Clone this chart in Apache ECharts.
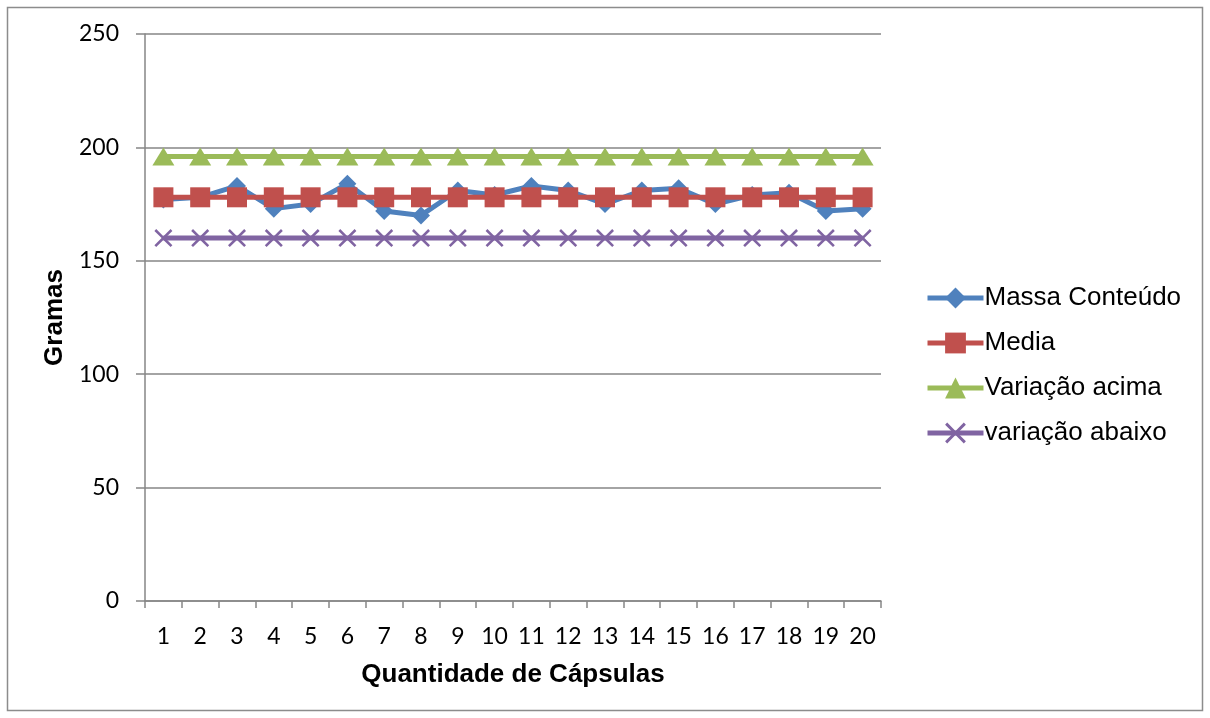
<!DOCTYPE html>
<html>
<head>
<meta charset="utf-8">
<script src="https://cdn.jsdelivr.net/npm/echarts@6/dist/echarts.min.js"></script>
<style>
  html, body { margin: 0; padding: 0; background: #fff; }
  #chart { width: 1210px; height: 718px; }
</style>
</head>
<body>
<div id="chart"></div>
<script>
// Capsule index (x axis categories)
const capsulas = ['1','2','3','4','5','6','7','8','9','10','11','12','13','14','15','16','17','18','19','20'];
// Measured content mass per capsule (g)
const massaConteudo = [177, 178, 183, 173, 175, 184, 172, 170, 181, 179, 183, 181, 175, 181, 182, 175, 179, 180, 172, 173];
// Mean and tolerance limits (g)
const media = [178, 178, 178, 178, 178, 178, 178, 178, 178, 178, 178, 178, 178, 178, 178, 178, 178, 178, 178, 178];
const variacaoAcima = [196, 196, 196, 196, 196, 196, 196, 196, 196, 196, 196, 196, 196, 196, 196, 196, 196, 196, 196, 196];
const variacaoAbaixo = [160, 160, 160, 160, 160, 160, 160, 160, 160, 160, 160, 160, 160, 160, 160, 160, 160, 160, 160, 160];
const yTicks = [0, 50, 100, 150, 200, 250];

const crossPath = 'path://M0,2L2,0L10,8L18,0L20,2L12,10L20,18L18,20L10,12L2,20L0,18L8,10Z';
const tickFont = 'Lato, "Open Sans", sans-serif';
const textFont = '"Liberation Sans", Arial, sans-serif';

const chart = echarts.init(document.getElementById('chart'), null, { renderer: 'canvas' });

function lineSeries(name, data, color, symbol, size) {
  return {
    name: name,
    type: 'line',
    data: data,
    symbol: symbol,
    symbolSize: size,
    showAllSymbol: true,
    lineStyle: { color: color, width: 5 },
    itemStyle: { color: color, borderWidth: 0 },
    emphasis: { disabled: true },
    animation: false
  };
}

chart.setOption({
  backgroundColor: '#fff',
  graphic: [{
    type: 'rect',
    shape: { x: 7.5, y: 7.5, width: 1195, height: 703 },
    style: { fill: 'none', stroke: '#8c8c8c', lineWidth: 1.5 },
    silent: true
  }],
  grid: { left: 145, right: 329, top: 34, bottom: 117 },
  legend: {
    orient: 'vertical',
    left: 920,
    top: 280,
    itemGap: 19,
    itemWidth: 56,
    itemHeight: 26,
    lineStyle: { width: 5 },
    textStyle: { fontFamily: textFont, fontSize: 26, color: '#000', padding: [0, 0, 0, -4] },
    data: ['Massa Conteúdo', 'Media', 'Variação acima', 'variação abaixo']
  },
  xAxis: {
    type: 'category',
    data: capsulas,
    boundaryGap: true,
    name: 'Quantidade de Cápsulas',
    nameLocation: 'middle',
    nameGap: 61,
    nameTextStyle: { fontFamily: textFont, fontSize: 26, fontWeight: 'bold', color: '#000' },
    axisLine: { lineStyle: { color: '#868686', width: 1.5 } },
    axisTick: { show: true, length: 7, lineStyle: { color: '#868686', width: 1.5 }, alignWithLabel: false },
    axisLabel: { fontFamily: tickFont, fontSize: 23, color: '#000', margin: 24, interval: 0 },
    splitLine: { show: false }
  },
  yAxis: {
    type: 'value',
    min: 0,
    max: 250,
    interval: 50,
    name: 'Gramas',
    nameLocation: 'middle',
    nameGap: 60,
    nameTextStyle: { fontFamily: textFont, fontSize: 26, fontWeight: 'bold', color: '#000' },
    axisLine: { show: true, lineStyle: { color: '#868686', width: 1.5 } },
    axisTick: { show: true, length: 9, lineStyle: { color: '#868686', width: 1.5 } },
    axisLabel: {
      fontFamily: tickFont, fontSize: 23, color: '#000', margin: 26,
      formatter: function (v) { return yTicks.indexOf(v) >= 0 ? String(v) : ''; }
    },
    splitLine: { show: true, lineStyle: { color: '#868686', width: 1.5 } }
  },
  series: [
    lineSeries('Massa Conteúdo', massaConteudo, '#4F81BD', 'diamond', 18),
    lineSeries('Media', media, '#C0504D', 'rect', 20),
    lineSeries('Variação acima', variacaoAcima, '#9BBB59', 'triangle', [22, 18]),
    lineSeries('variação abaixo', variacaoAbaixo, '#8064A2', crossPath, 18)
  ]
});
</script>
</body>
</html>
